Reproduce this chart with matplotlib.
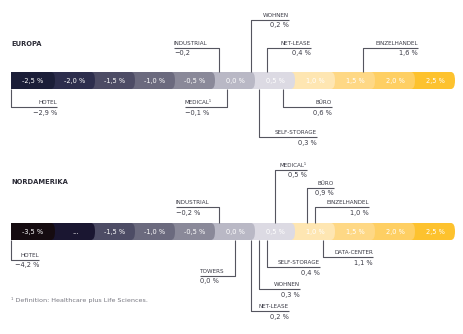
import matplotlib
matplotlib.use("Agg")
import matplotlib.pyplot as plt
from matplotlib.patches import FancyBboxPatch, Rectangle
import numpy as np

plt.rcParams['font.family'] = ['DejaVu Sans']

# scale ticks (segment centres, % yield change)
seg_centers = np.arange(-2.5, 2.51, 0.5)
seg_colors = ['#1b1e38', '#2d2e4d', '#4d4c65', '#6b6a7e', '#8a8999', '#b9b8c5',
              '#dcdae3', '#fee6b2', '#fed885', '#fecf63', '#fdc22e']
eu_seg_labels = ['-2,5 %', '-2,0 %', '-1,5 %', '-1,0 %', '-0,5 %', '0,0 %',
                 '0,5 %', '1,0 %', '1,5 %', '2,0 %', '2,5 %']
na_seg_labels = ['-3,5 %', '...', '-1,5 %', '-1,0 %', '-0,5 %', '0,0 %',
                 '0,5 %', '1,0 %', '1,5 %', '2,0 %', '2,5 %']
na_colors = ['#150b10', '#1a1631'] + seg_colors[2:]

# sector values
eu_sectors = ['INDUSTRIAL', 'WOHNEN', 'NET-LEASE', 'EINZELHANDEL',
              'HOTEL', 'MEDICAL¹', 'BÜRO', 'SELF-STORAGE']
eu_values = [-0.2, 0.2, 0.4, 1.6, -2.9, -0.1, 0.6, 0.3]
eu_texts = ['−0,2', '0,2 %', '0,4 %', '1,6 %', '−2,9 %', '−0,1 %', '0,6 %', '0,3 %']

na_sectors = ['INDUSTRIAL', 'MEDICAL¹', 'BÜRO', 'EINZELHANDEL',
              'HOTEL', 'TOWERS', 'DATA-CENTER', 'SELF-STORAGE', 'WOHNEN', 'NET-LEASE']
na_values = [-0.2, 0.5, 0.9, 1.0, -4.2, 0.0, 1.1, 0.4, 0.3, 0.2]
na_texts = ['−0,2 %', '0,5 %', '0,9 %', '1,0 %', '−4,2 %', '0,0 %', '1,1 %',
            '0,4 %', '0,3 %', '0,2 %']

# layout: (line level in px, horizontal leg length in px)
eu_layout = [(48, -45), (20, 38), (48, 44), (48, 55),
             (107, 46), (107, -42), (107, 49), (137, 58)]
na_layout = [(207, -43), (170, 32), (188, 27), (207, 54),
             (260, 28), (276, -35), (257, 50), (267, 53), (289, 41), (311, 38)]

PX = 80.0          # px per 1 %
LEFT = -2.8        # left end of the scale bar
RIGHT = 2.75
BAR_H = 17

fig = plt.figure(figsize=(4.64, 3.34), dpi=100)
ax = fig.add_axes([0, 0, 1, 1])
ax.set_xlim(-235 / PX, (464 - 235) / PX)
ax.set_ylim(334, 0)
ax.axis('off')

line_kw = dict(color='#55555f', lw=0.8, solid_capstyle='butt')


def draw_bar(y_top, labels, colors):
    clip = Rectangle((LEFT, y_top), RIGHT - LEFT + 1, BAR_H, transform=ax.transData)
    rx = 4 / PX                     # horizontal radius of the rounded ends
    aspect = (BAR_H / 2) / rx
    for i in range(len(seg_centers) - 1, -1, -1):
        right = seg_centers[i] + 0.25
        if i == len(seg_centers) - 1:
            right = RIGHT
        box = FancyBboxPatch((LEFT - 0.3, y_top), right - LEFT + 0.3, BAR_H,
                             boxstyle=f"round,pad=0,rounding_size={rx}",
                             mutation_aspect=aspect, fc=colors[i], ec='none')
        ax.add_patch(box)
        box.set_clip_path(clip)
    for i, c in enumerate(seg_centers):
        xc = c if i > 0 else (LEFT + c + 0.25) / 2
        ax.text(xc, y_top + BAR_H / 2 + 0.5, labels[i], color='white', fontsize=4.8,
                ha='center', va='center')


def draw_notes(y_top, names, vals, texts, layout):
    for name, v, t, (yl, leg) in zip(names, vals, texts, layout):
        xv = max(v, LEFT)
        y0 = y_top if yl < y_top else y_top + BAR_H
        xe = xv + leg / PX
        ax.plot([xv, xv, xe], [y0, yl, yl], **line_kw)
        ha = 'right' if leg > 0 else 'left'
        ax.text(xe, yl - 1.8, name, fontsize=4.1, color='#3a3a45', ha=ha, va='bottom')
        ax.text(xe, yl + 2.5, t, fontsize=4.8, color='#3a3a45', ha=ha, va='top')


ax.text(LEFT, 44, 'EUROPA', fontsize=4.9, fontweight='bold', color='#2a2a35', va='center')
draw_bar(72, eu_seg_labels, seg_colors)
draw_notes(72, eu_sectors, eu_values, eu_texts, eu_layout)

ax.text(LEFT, 182, 'NORDAMERIKA', fontsize=4.9, fontweight='bold', color='#2a2a35', va='center')
draw_bar(223, na_seg_labels, na_colors)
draw_notes(223, na_sectors, na_values, na_texts, na_layout)

ax.text(LEFT, 300, '¹ Definition: Healthcare plus Life Sciences.', fontsize=4.6,
        color='#777780', va='center')

fig.savefig('out.png', dpi=100)
